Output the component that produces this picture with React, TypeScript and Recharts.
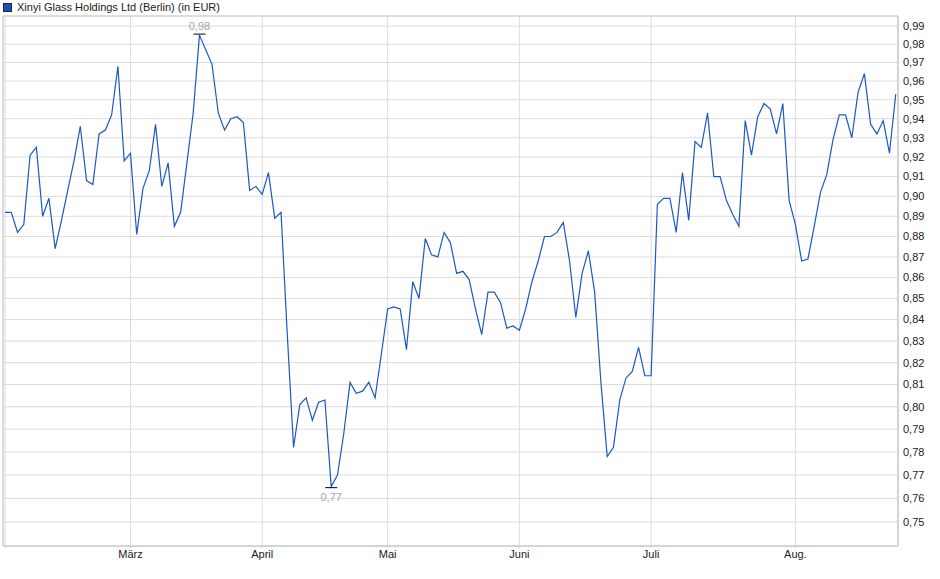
import React from 'react';
import { LineChart, Line, XAxis, YAxis, CartesianGrid, ReferenceArea, ReferenceDot } from 'recharts';

// daily closing prices (Berlin), one entry per trading day from early February
const prices = [
  0.892, 0.892, 0.882, 0.886, 0.921, 0.925, 0.890, 0.899, 0.874, 0.888,
  0.903, 0.918, 0.936, 0.908, 0.906, 0.932, 0.934, 0.942, 0.968, 0.918,
  0.922, 0.881, 0.904, 0.913, 0.937, 0.905, 0.917, 0.885, 0.892, 0.917,
  0.943, 0.985, 0.977, 0.969, 0.943, 0.934, 0.940, 0.941, 0.938, 0.903,
  0.905, 0.901, 0.912, 0.889, 0.892, 0.833, 0.782, 0.801, 0.804, 0.794,
  0.802, 0.803, 0.765, 0.770, 0.788, 0.811, 0.806, 0.807, 0.811, 0.804,
  0.824, 0.845, 0.846, 0.845, 0.826, 0.858, 0.850, 0.879, 0.871, 0.870,
  0.882, 0.877, 0.862, 0.863, 0.859, 0.845, 0.833, 0.853, 0.853, 0.848,
  0.836, 0.837, 0.835, 0.845, 0.858, 0.868, 0.880, 0.880, 0.882, 0.887,
  0.868, 0.841, 0.862, 0.873, 0.853, 0.811, 0.778, 0.782, 0.803, 0.813,
  0.816, 0.827, 0.814, 0.814, 0.896, 0.899, 0.899, 0.882, 0.912, 0.888,
  0.928, 0.925, 0.943, 0.910, 0.910, 0.898, 0.891, 0.885, 0.939, 0.921,
  0.941, 0.948, 0.945, 0.932, 0.948, 0.898, 0.886, 0.868, 0.869, 0.885,
  0.902, 0.911, 0.929, 0.942, 0.942, 0.930, 0.954, 0.964, 0.937, 0.932,
  0.939, 0.922, 0.953,
];

// first trading day of each month (index into prices)
const monthTicks = [0, 20, 41, 61, 82, 103, 126];
const monthLabels = ['', 'März', 'April', 'Mai', 'Juni', 'Juli', 'Aug.'];

const yTicks = [
  0.75, 0.76, 0.77, 0.78, 0.79, 0.8, 0.81, 0.82, 0.83, 0.84, 0.85, 0.86, 0.87,
  0.88, 0.89, 0.9, 0.91, 0.92, 0.93, 0.94, 0.95, 0.96, 0.97, 0.98, 0.99,
];

const data = prices.map((price, i) => ({ i, price }));

const xDomain: [number, number] = [-0.32, 142.36];
const yDomain: [number, number] = [0.74, 0.9956];

const fmt = (v: number) => v.toFixed(2).replace('.', ',');

const maxValue = Math.max(...prices);
const minValue = Math.min(...prices);
const maxIndex = prices.indexOf(maxValue);
const minIndex = prices.indexOf(minValue);

const FONT = 'Arial, "Liberation Sans", sans-serif';

const ExtremeMarker = ({ cx, cy, value, above, color }: any) => (
  <g>
    <line x1={cx - 6} x2={cx + 6} y1={above ? cy - 1 : cy + 1} y2={above ? cy - 1 : cy + 1} stroke="#000" strokeWidth={1} />
    <text
      x={cx}
      y={above ? cy - 5 : cy + 14}
      textAnchor="middle"
      fontSize={11}
      fontFamily={FONT}
      fill={color}
    >
      {fmt(value)}
    </text>
  </g>
);

export default function App() {
  return (
    <div style={{ position: 'absolute', left: 0, top: 0, width: 940, height: 579, background: '#fff' }}>
      <div
        style={{
          position: 'absolute',
          left: 3,
          top: 0,
          display: 'flex',
          alignItems: 'center',
          fontFamily: FONT,
          fontSize: 11,
          color: '#222',
          lineHeight: '14px',
        }}
      >
        <span
          style={{
            display: 'inline-block',
            width: 7,
            height: 7,
            background: '#1a50b8',
            border: '1px solid #223',
            marginRight: 5,
          }}
        />
        Xinyi Glass Holdings Ltd (Berlin) (in EUR)
      </div>
      <LineChart width={940} height={579} data={data} margin={{ top: 16, right: 0, left: 3, bottom: 13 }}>
        <CartesianGrid stroke="#dcdcdc" strokeWidth={1} />
        <XAxis
          dataKey="i"
          type="number"
          domain={xDomain}
          allowDataOverflow
          ticks={monthTicks}
          interval={0}
          tickFormatter={(v: number) => monthLabels[monthTicks.indexOf(v)] ?? ''}
          height={20}
          axisLine={{ stroke: '#cccccc' }}
          tickLine={{ stroke: '#cccccc' }}
          tickSize={2}
          tickMargin={2}
          tick={{ fontSize: 11, fontFamily: FONT, fill: '#222' }}
        />
        <YAxis
          orientation="right"
          type="number"
          scale="log"
          domain={yDomain}
          allowDataOverflow
          ticks={yTicks}
          interval={0}
          tickFormatter={fmt}
          width={42}
          axisLine={{ stroke: '#cccccc' }}
          tickLine={false}
          tickSize={3}
          tickMargin={2}
          tick={{ fontSize: 11, fontFamily: FONT, fill: '#222' }}
        />
        <ReferenceArea
          x1={xDomain[0]}
          x2={xDomain[1]}
          y1={yDomain[0]}
          y2={yDomain[1]}
          fill="none"
          stroke="#cccccc"
          ifOverflow="extendDomain"
        />
        <Line
          type="linear"
          dataKey="price"
          stroke="#1c58c4"
          strokeWidth={1.2}
          dot={false}
          isAnimationActive={false}
        />
        <ReferenceDot
          x={maxIndex}
          y={maxValue}
          shape={(p: any) => <ExtremeMarker {...p} value={maxValue} above color="#aaa59c" />}
        />
        <ReferenceDot
          x={minIndex}
          y={minValue}
          shape={(p: any) => <ExtremeMarker {...p} value={minValue} above={false} color="#9ea6bd" />}
        />
      </LineChart>
    </div>
  );
}
